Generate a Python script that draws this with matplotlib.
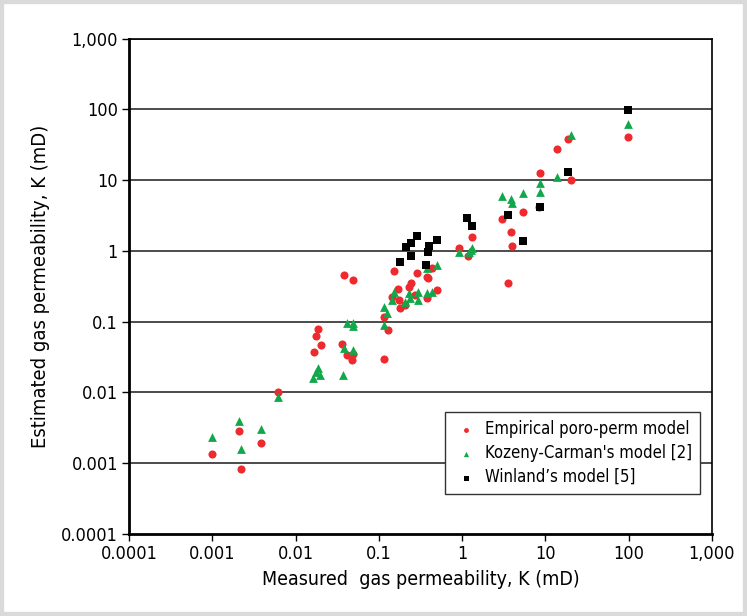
import matplotlib
matplotlib.use("Agg")
import matplotlib.pyplot as plt
from matplotlib.ticker import FixedLocator, NullLocator
from matplotlib.patches import Rectangle
from matplotlib import font_manager

# measured vs estimated permeability (mD)
emp_x = [0.00099, 0.00212, 0.00222, 0.00386, 0.00624, 0.0167, 0.0175, 0.0188, 0.0201, 0.0362,
         0.0386, 0.0491, 0.0413, 0.0491, 0.0482, 0.116, 0.117, 0.128, 0.143, 0.154,
         0.290, 0.172, 0.175, 0.207, 0.180, 0.244, 0.231, 0.377, 0.394, 0.505,
         0.377, 0.433, 0.273, 0.921, 1.17, 1.33, 3.05, 3.85, 4.02, 3.54,
         5.44, 8.64, 8.47, 13.9, 18.9, 20.4, 98.4]
emp_y = [0.00133, 0.00284, 0.00083, 0.00192, 0.0100, 0.0371, 0.063, 0.080, 0.0466, 0.0476,
         0.454, 0.386, 0.0336, 0.0344, 0.0289, 0.0295, 0.117, 0.0759, 0.224, 0.522,
         0.489, 0.285, 0.201, 0.171, 0.154, 0.347, 0.304, 0.430, 0.408, 0.279,
         0.213, 0.564, 0.237, 1.08, 0.84, 1.55, 2.78, 1.85, 1.19, 0.350,
         3.56, 12.5, 4.10, 27.9, 37.8, 9.87, 40.0]

kc_x = [0.00099, 0.00212, 0.00222, 0.00386, 0.00624, 0.0188, 0.0163, 0.0177, 0.0197, 0.0373,
        0.0383, 0.0491, 0.0413, 0.0491, 0.0491, 0.116, 0.116, 0.127, 0.153, 0.146,
        0.233, 0.294, 0.294, 0.238, 0.207, 0.377, 0.433, 0.505, 0.377, 0.921,
        1.28, 1.31, 1.22, 3.05, 3.85, 4.02, 5.44, 8.64, 8.64, 13.9,
        20.5, 98.4]
kc_y = [0.00231, 0.00397, 0.00157, 0.00303, 0.0085, 0.0225, 0.0160, 0.0194, 0.0175, 0.0175,
        0.0418, 0.0392, 0.0943, 0.0943, 0.0863, 0.0884, 0.159, 0.133, 0.264, 0.201,
        0.250, 0.264, 0.201, 0.213, 0.190, 0.250, 0.264, 0.628, 0.564, 0.949,
        1.02, 1.08, 0.97, 5.98, 5.32, 4.67, 6.47, 9.12, 6.75, 11.1,
        42.7, 61.0]

win_x = [0.179, 0.213, 0.242, 0.291, 0.244, 0.405, 0.394, 0.505, 0.370, 1.16,
         1.33, 3.54, 5.44, 8.64, 18.9, 98.4]
win_y = [0.699, 1.14, 1.31, 1.61, 0.85, 1.18, 0.97, 1.42, 0.628, 2.92,
         2.21, 3.19, 1.40, 4.18, 12.9, 97.1]

ticks = [0.0001, 0.001, 0.01, 0.1, 1, 10, 100, 1000]
tick_labels = ["0.0001", "0.001", "0.01", "0.1", "1", "10", "100", "1,000"]

names = {f.name for f in font_manager.fontManager.ttflist}
if 'Liberation Sans Narrow' in names:
    plt.rcParams['font.family'] = ['Liberation Sans Narrow', 'DejaVu Sans']
else:
    plt.rcParams['font.family'] = ['DejaVu Sans']
    plt.rcParams['font.stretch'] = 'condensed'

fig = plt.figure(figsize=(7.47, 6.16), dpi=100)
fig.patches.append(Rectangle((0, 0), 1, 1, transform=fig.transFigure, fill=False,
                             edgecolor='#dadada', linewidth=6))
ax = fig.add_axes([0.1727, 0.1331, 0.7803, 0.8044])

ax.set_xscale('log')
ax.set_yscale('log')
ax.set_xlim(0.0001, 1000)
ax.set_ylim(0.0001, 1000)

for t in ticks[1:]:
    ax.axhline(t, color='#1a1a1a', lw=1.1, zorder=1)

ax.scatter(emp_x, emp_y, s=34, marker='o', color='#ee2a2f', linewidths=0, zorder=3,
           label='Empirical poro-perm model')
ax.scatter(kc_x, kc_y, s=40, marker='^', color='#10a84a', linewidths=0, zorder=4,
           label="Kozeny-Carman's model [2]")
ax.scatter(win_x, win_y, s=36, marker='s', color='black', linewidths=0, zorder=5,
           label='Winland\u2019s model [5]')

ax.xaxis.set_major_locator(FixedLocator(ticks))
ax.yaxis.set_major_locator(FixedLocator(ticks))
ax.xaxis.set_minor_locator(NullLocator())
ax.yaxis.set_minor_locator(NullLocator())
ax.set_xticklabels(tick_labels)
ax.set_yticklabels(tick_labels)
ax.tick_params(axis='both', direction='out', length=5, width=1, labelsize=13, pad=3)
ax.tick_params(top=False, right=False)

for side in ['left', 'bottom']:
    ax.spines[side].set_linewidth(2)
for side in ['top', 'right']:
    ax.spines[side].set_linewidth(1.2)

ax.set_xlabel('Measured  gas permeability, K (mD)', fontsize=14, labelpad=5)
ax.set_ylabel('Estimated gas permeability, K (mD)', fontsize=14.5, labelpad=8)

leg = ax.legend(loc='lower right', bbox_to_anchor=(0.98, 0.08), fontsize=12,
                frameon=True, fancybox=False, edgecolor='#333333', framealpha=1,
                markerscale=0.6, handletextpad=0.3, borderpad=0.5, labelspacing=0.35,
                handlelength=1.6, borderaxespad=0)
leg.get_frame().set_linewidth(1)

fig.savefig('out.png', dpi=100)
